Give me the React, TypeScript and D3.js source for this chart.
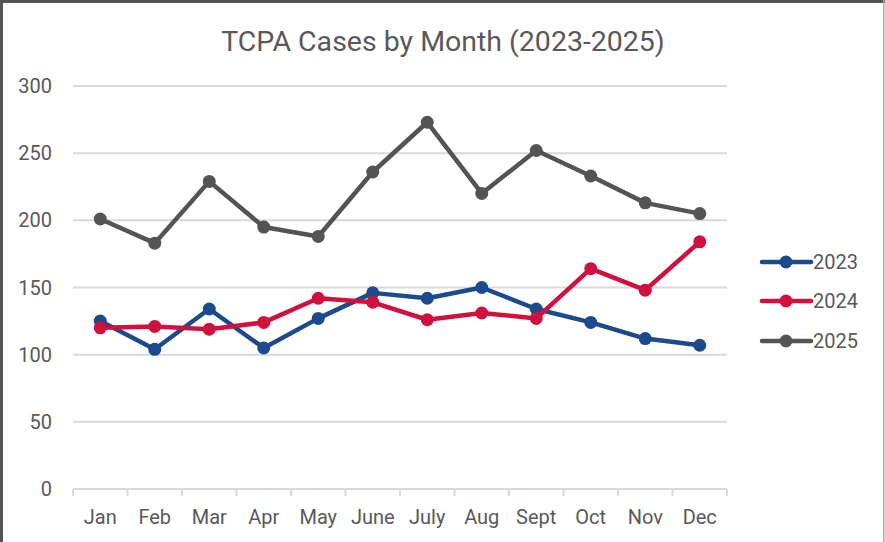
import React, { useEffect, useRef } from 'react';
import * as d3 from 'd3';

const months = ['Jan', 'Feb', 'Mar', 'Apr', 'May', 'June', 'July', 'Aug', 'Sept', 'Oct', 'Nov', 'Dec'];
const yTicks = [0, 50, 100, 150, 200, 250, 300];

const cases2023 = [125, 104, 134, 105, 127, 146, 142, 150, 134, 124, 112, 107];
const cases2024 = [120, 121, 119, 124, 142, 139, 126, 131, 127, 164, 148, 184];
const cases2025 = [201, 183, 229, 195, 188, 236, 273, 220, 252, 233, 213, 205];

const seriesNames = ['2023', '2024', '2025'];
const seriesColors = ['#1d4a8c', '#d0103f', '#545457'];

const W = 885;
const H = 542;
const margin = { top: 86, right: 158, bottom: 53, left: 73 };

const App: React.FC = () => {
    const svgRef = useRef<SVGSVGElement>(null);

    useEffect(() => {
        if (!svgRef.current) return;
        const svg = d3.select(svgRef.current);
        svg.selectAll('*').remove();

        const font = 'Roboto, "Noto Sans", sans-serif';
        const textColor = '#595959';
        const gridColor = '#d9d9d9';

        // frame
        svg.append('rect').attr('width', W).attr('height', H).attr('fill', '#fff');
        svg.append('rect').attr('x', 0).attr('y', 0).attr('width', W).attr('height', 3).attr('fill', '#555');
        svg.append('rect').attr('x', 0).attr('y', 0).attr('width', 3).attr('height', H).attr('fill', '#555');
        svg.append('rect').attr('x', 883).attr('y', 0).attr('width', 1.5).attr('height', H).attr('fill', '#aaa');

        const x = d3.scaleBand<string>()
            .domain(months)
            .range([margin.left, W - margin.right]);

        const y = d3.scaleLinear()
            .domain([0, 300])
            .range([H - margin.bottom, margin.top]);

        // title
        svg.append('text')
            .attr('x', 443)
            .attr('y', 51)
            .attr('text-anchor', 'middle')
            .attr('font-family', font)
            .attr('font-size', '28.5px')
            .attr('fill', textColor)
            .text('TCPA Cases by Month (2023-2025)');

        // gridlines + y labels
        yTicks.forEach(t => {
            svg.append('line')
                .attr('x1', margin.left)
                .attr('x2', W - margin.right)
                .attr('y1', y(t))
                .attr('y2', y(t))
                .attr('stroke', gridColor)
                .attr('stroke-width', 2);
            svg.append('text')
                .attr('x', 52)
                .attr('y', y(t))
                .attr('dy', '0.35em')
                .attr('text-anchor', 'end')
                .attr('font-family', font)
                .attr('font-size', '20px')
                .attr('fill', textColor)
                .text(t);
        });

        // x axis ticks
        const edges = months.map(m => x(m) as number).concat([W - margin.right]);
        edges.forEach(e => {
            svg.append('line')
                .attr('x1', e).attr('x2', e)
                .attr('y1', y(0)).attr('y2', y(0) + 7)
                .attr('stroke', gridColor)
                .attr('stroke-width', 2);
        });
        months.forEach(m => {
            svg.append('text')
                .attr('x', (x(m) as number) + x.bandwidth() / 2)
                .attr('y', 524)
                .attr('text-anchor', 'middle')
                .attr('font-family', font)
                .attr('font-size', '20px')
                .attr('fill', textColor)
                .text(m);
        });

        const allSeries = [cases2023, cases2024, cases2025];
        const cx = (i: number) => (x(months[i]) as number) + x.bandwidth() / 2;
        const line = d3.line<number>()
            .x((_, i) => cx(i))
            .y(d => y(d));

        allSeries.forEach((vals, si) => {
            const g = svg.append('g');
            g.append('path')
                .datum(vals)
                .attr('d', line)
                .attr('fill', 'none')
                .attr('stroke', seriesColors[si])
                .attr('stroke-width', 4.5)
                .attr('stroke-linejoin', 'round');
            g.selectAll('circle')
                .data(vals)
                .join('circle')
                .attr('cx', (_, i) => cx(i))
                .attr('cy', d => y(d))
                .attr('r', 6.5)
                .attr('fill', seriesColors[si]);
        });

        // legend
        const legendY = [262, 301, 341];
        seriesNames.forEach((name, i) => {
            const lg = svg.append('g');
            lg.append('line')
                .attr('x1', 762).attr('x2', 811)
                .attr('y1', legendY[i]).attr('y2', legendY[i])
                .attr('stroke', seriesColors[i])
                .attr('stroke-width', 4.5)
                .attr('stroke-linecap', 'round');
            lg.append('circle')
                .attr('cx', 786).attr('cy', legendY[i])
                .attr('r', 6.5)
                .attr('fill', seriesColors[i]);
            lg.append('text')
                .attr('x', 813)
                .attr('y', legendY[i])
                .attr('dy', '0.36em')
                .attr('font-family', font)
                .attr('font-size', '20px')
                .attr('fill', textColor)
                .text(name);
        });
    }, []);

    return (
        <svg
            ref={svgRef}
            width={W}
            height={H}
            style={{ position: 'absolute', left: 0, top: 0, display: 'block' }}
        />
    );
};

export default App;
